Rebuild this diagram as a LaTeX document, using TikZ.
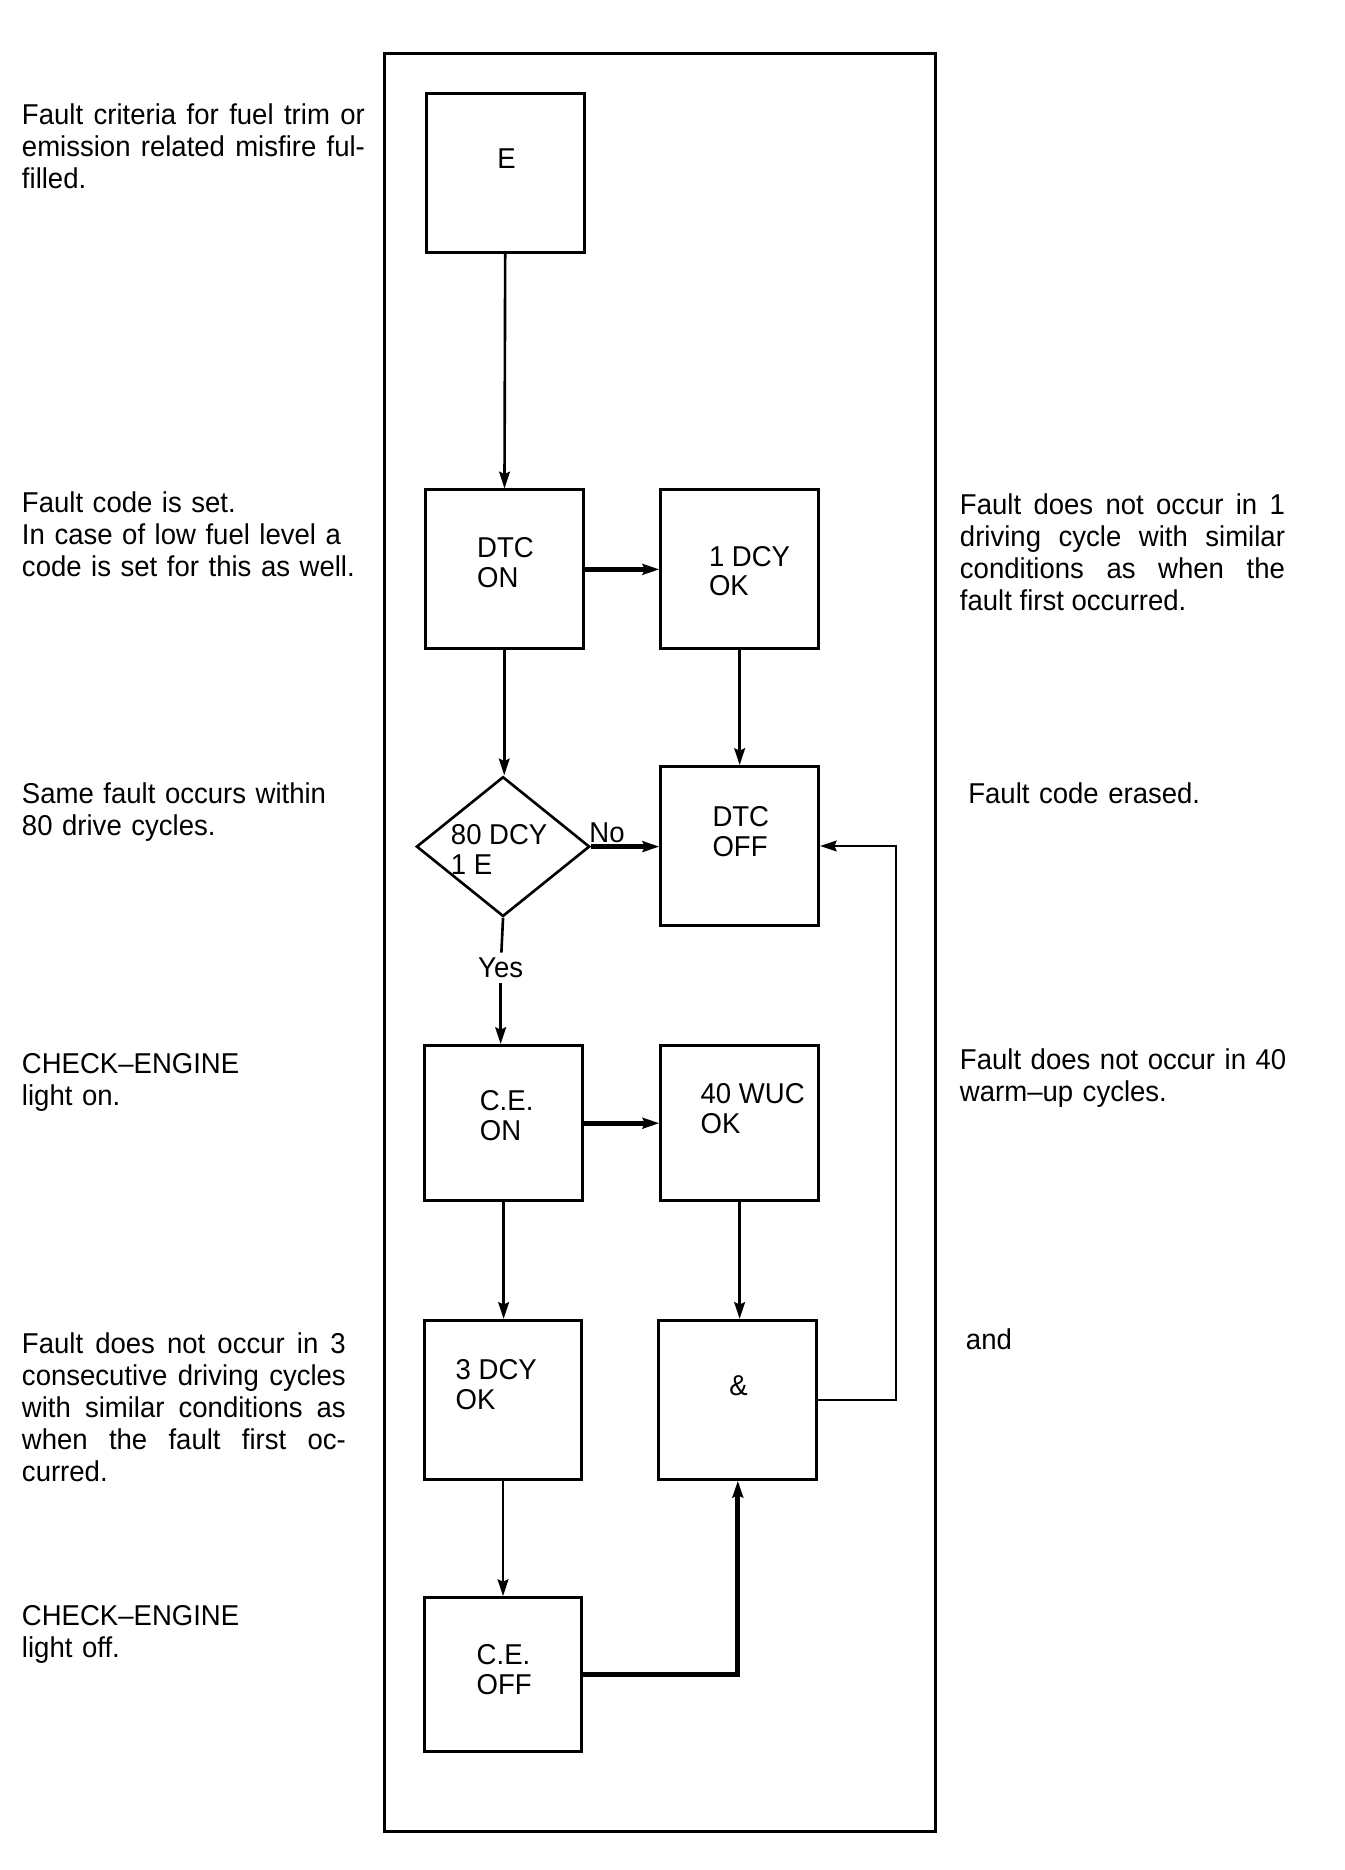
\documentclass[tikz,border=0pt]{standalone}
\usepackage{fontspec}
\setmainfont{Liberation Sans}[FakeStretch=0.96]
\usetikzlibrary{arrows.meta,shapes.geometric}
\tikzset{
  box/.style={draw,line width=1.25pt,rectangle,inner sep=0pt,minimum width=66pt,minimum height=66.5pt},
  dia/.style={draw,line width=1.1pt,diamond,inner sep=0pt,minimum width=72.5pt,minimum height=58.5pt},
  intext/.style={inner sep=0pt,align=left,font=\fontsize{12}{12.5}\selectfont},
  sidetext/.style={inner sep=0pt,anchor=north west,font=\fontsize{12}{13.4}\selectfont},
  conn/.style={line width=1.1pt},
  arr/.style={line width=1.1pt,-{Stealth[length=7pt,width=4.5pt,inset=1pt]}},
  thinarr/.style={line width=0.9pt,-{Stealth[length=7pt,width=4.5pt,inset=1pt]}},
  thickarr/.style={line width=2pt,-{Stealth[length=7pt,width=4.5pt,inset=1pt]}},
}
\begin{document}
\begin{tikzpicture}[x=0.5pt,y=-0.5pt]
\useasboundingbox (0,0) rectangle (1125,1565);
% frame
\draw[line width=1.25pt] (322,45) rectangle (783,1533);
% boxes
\node[box] (E) at (423,145) {};
\node[box] (DTCON) at (422,476.5) {};
\node[box] (DCY1) at (619,476.5) {};
\node[dia] (D80) at (421,708.5) {};
\node[box] (DTCOFF) at (619,708) {};
\node[box,minimum height=65pt] (CEON) at (421.5,940) {};
\node[box,minimum height=65pt] (WUC) at (619,940) {};
\node[box] (DCY3) at (421,1171.5) {};
\node[box] (AND) at (617.5,1171.5) {};
\node[box,minimum height=64.5pt] (CEOFF) at (421,1401.5) {};
% box texts
\node[intext] (tE) at (424,133) {E};
\node[intext] (tDTCON) at (423,471) {DTC\\ON};
\node[intext,anchor=west] (tDCY1) at (593,478) {1 DCY\\OK};
\node[intext,anchor=west] (tD80) at (377,711) {80 DCY\\1 E};
\node[intext] (tDTCOFF) at (620,696) {DTC\\OFF};
\node[intext] (tCEON) at (424,934) {C.E.\\ON};
\node[intext,anchor=west] (tWUC) at (586,928) {40 WUC\\OK};
\node[intext,anchor=west] (tDCY3) at (381,1159) {3 DCY\\OK};
\node[intext] (tAND) at (618,1160) {\&};
\node[intext] (tCEOFF) at (422,1397) {C.E.\\OFF};
\node[intext] (no) at (508,697) {No};
\node[intext,fill=white,inner ysep=2pt] (yes) at (419,810) {Yes};
% connectors
\draw[arr] (E) -- (DTCON);
\draw[thickarr] (DTCON) -- (DCY1);
\draw[arr] (DTCON.south) -- (DTCON.south |- D80.north);
\draw[arr] (DCY1) -- (DTCOFF);
\draw[thickarr] (D80.east) -- (D80.east -| DTCOFF.west);
\draw[conn] (D80.south) -- (yes);
\draw[arr] (yes) -- (yes |- CEON.north);
\draw[thickarr] (CEON) -- (WUC);
\draw[arr] (CEON.south) -- (CEON.south |- DCY3.north);
\draw[arr] (WUC.south) -- (WUC.south |- AND.north);
\coordinate (fb) at (750,1171.5);
\draw[thinarr] (AND.east) -- (fb) |- (DTCOFF.east);
\draw[arr] (DCY3) -- (CEOFF);
\draw[thickarr] (CEOFF.east) -| (AND.south);
% left texts
\node[sidetext,text width=143.5pt,align=justify] (L1) at (18,86) {Fault criteria for fuel trim or\linebreak emission related misfire ful-\linebreak filled.};
\node[sidetext,text width=150pt,align=left] (L2) at (18,411) {Fault code is set.\\In case of low fuel level a\\code is set for this as well.};
\node[sidetext,text width=150pt,align=left] (L3) at (18,655) {Same fault occurs within\\80 drive cycles.};
\node[sidetext,text width=150pt,align=left] (L4) at (18,881) {CHECK–ENGINE\\light on.};
\node[sidetext,text width=135.5pt,align=justify] (L5) at (18,1115) {Fault does not occur in 3\linebreak consecutive driving cycles\linebreak with similar conditions as\linebreak when the fault first oc-\linebreak curred.};
\node[sidetext,text width=150pt,align=left] (L6) at (18,1343) {CHECK–ENGINE\\light off.};
% right texts
\node[sidetext,text width=136pt,align=justify] (R1) at (803,413) {Fault does not occur in 1\linebreak driving cycle with similar\linebreak conditions as when the\linebreak fault first occurred.};
\node[sidetext,text width=150pt,align=left] (R2) at (810,655) {Fault code erased.};
\node[sidetext,text width=150pt,align=left] (R3) at (803,877) {Fault does not occur in 40\\warm–up cycles.};
\node[sidetext,text width=150pt,align=left] (R4) at (808,1112) {and};
\end{tikzpicture}
\end{document}
